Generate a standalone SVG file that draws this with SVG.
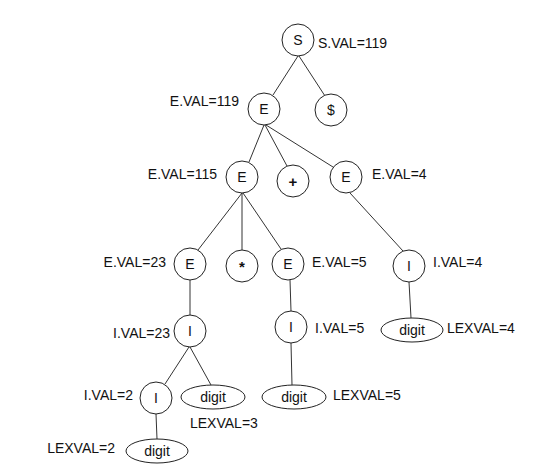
<svg xmlns="http://www.w3.org/2000/svg" width="538" height="474" viewBox="0 0 538 474">
<style>
.n{fill:#fff;stroke:#222;stroke-width:1}
.t{font-family:"Liberation Sans",Arial,sans-serif;font-size:14px;fill:#111}
.c{text-anchor:middle}
.e{text-anchor:end}
.b{font-weight:bold;font-size:15px}
.l{stroke:#333;stroke-width:1;fill:none}
</style>
<rect width="538" height="474" fill="#fff"/>
<g id="connectors">
<line class="l" x1="298" y1="56" x2="273" y2="95"/>
<line class="l" x1="299" y1="56" x2="325" y2="96"/>
<line class="l" x1="264" y1="125" x2="249" y2="162"/>
<line class="l" x1="265" y1="125" x2="287" y2="166"/>
<line class="l" x1="266" y1="125" x2="333" y2="167"/>
<line class="l" x1="242" y1="193" x2="198" y2="250"/>
<line class="l" x1="242" y1="193" x2="242" y2="250"/>
<line class="l" x1="243" y1="193" x2="281" y2="249"/>
<line class="l" x1="350" y1="193" x2="403" y2="251"/>
<line class="l" x1="190" y1="280" x2="190" y2="315"/>
<line class="l" x1="290" y1="280" x2="291" y2="311"/>
<line class="l" x1="409" y1="282" x2="411" y2="318"/>
<line class="l" x1="189" y1="347" x2="165" y2="384"/>
<line class="l" x1="190" y1="347" x2="211" y2="385"/>
<line class="l" x1="291" y1="343" x2="292" y2="385"/>
<line class="l" x1="156" y1="414" x2="157" y2="439"/>
</g>
<g id="S"><circle class="n" cx="298" cy="40" r="16"/><text class="t c" x="298" y="45">S</text><text class="t" x="318" y="48">S.VAL=119</text></g>
<g id="E1"><circle class="n" cx="264" cy="109" r="16"/><text class="t c" x="264" y="114">E</text><text class="t e" x="239" y="106">E.VAL=119</text></g>
<g id="dollar"><circle class="n" cx="331" cy="110" r="16"/><text class="t c" x="331" y="115">$</text></g>
<g id="E2"><circle class="n" cx="242" cy="177" r="16"/><text class="t c" x="242" y="182">E</text><text class="t e" x="217" y="179">E.VAL=115</text></g>
<g id="plus"><circle class="n" cx="293" cy="181" r="16"/><text class="t c b" x="293" y="187">+</text></g>
<g id="E3"><circle class="n" cx="346" cy="177" r="16"/><text class="t c" x="346" y="182">E</text><text class="t" x="372" y="179">E.VAL=4</text></g>
<g id="E4"><circle class="n" cx="190" cy="264" r="16"/><text class="t c" x="190" y="269">E</text><text class="t e" x="166" y="267">E.VAL=23</text></g>
<g id="star"><circle class="n" cx="242" cy="266" r="16"/><text class="t c b" x="242" y="272">*</text></g>
<g id="E5"><circle class="n" cx="288" cy="264" r="16"/><text class="t c" x="288" y="269">E</text><text class="t" x="312" y="267">E.VAL=5</text></g>
<g id="I4"><circle class="n" cx="409" cy="266" r="16"/><text class="t c" x="409" y="271">I</text><text class="t" x="433" y="267">I.VAL=4</text></g>
<g id="D4"><ellipse class="n" cx="412" cy="330" rx="31" ry="12"/><text class="t c" x="412" y="335">digit</text><text class="t" x="447" y="333">LEXVAL=4</text></g>
<g id="I23"><circle class="n" cx="190" cy="331" r="16"/><text class="t c" x="190" y="336">I</text><text class="t e" x="170" y="338">I.VAL=23</text></g>
<g id="I5"><circle class="n" cx="291" cy="327" r="16"/><text class="t c" x="291" y="332">I</text><text class="t" x="315" y="333">I.VAL=5</text></g>
<g id="I2"><circle class="n" cx="156" cy="398" r="16"/><text class="t c" x="156" y="403">I</text><text class="t e" x="133" y="400">I.VAL=2</text></g>
<g id="D3"><ellipse class="n" cx="213" cy="397" rx="32" ry="12"/><text class="t c" x="213" y="402">digit</text><text class="t" x="190" y="428">LEXVAL=3</text></g>
<g id="D5"><ellipse class="n" cx="294" cy="397" rx="32" ry="12"/><text class="t c" x="294" y="402">digit</text><text class="t" x="333" y="400">LEXVAL=5</text></g>
<g id="D2"><ellipse class="n" cx="157" cy="451" rx="31" ry="12"/><text class="t c" x="157" y="456">digit</text><text class="t e" x="115" y="453">LEXVAL=2</text></g>
</svg>
